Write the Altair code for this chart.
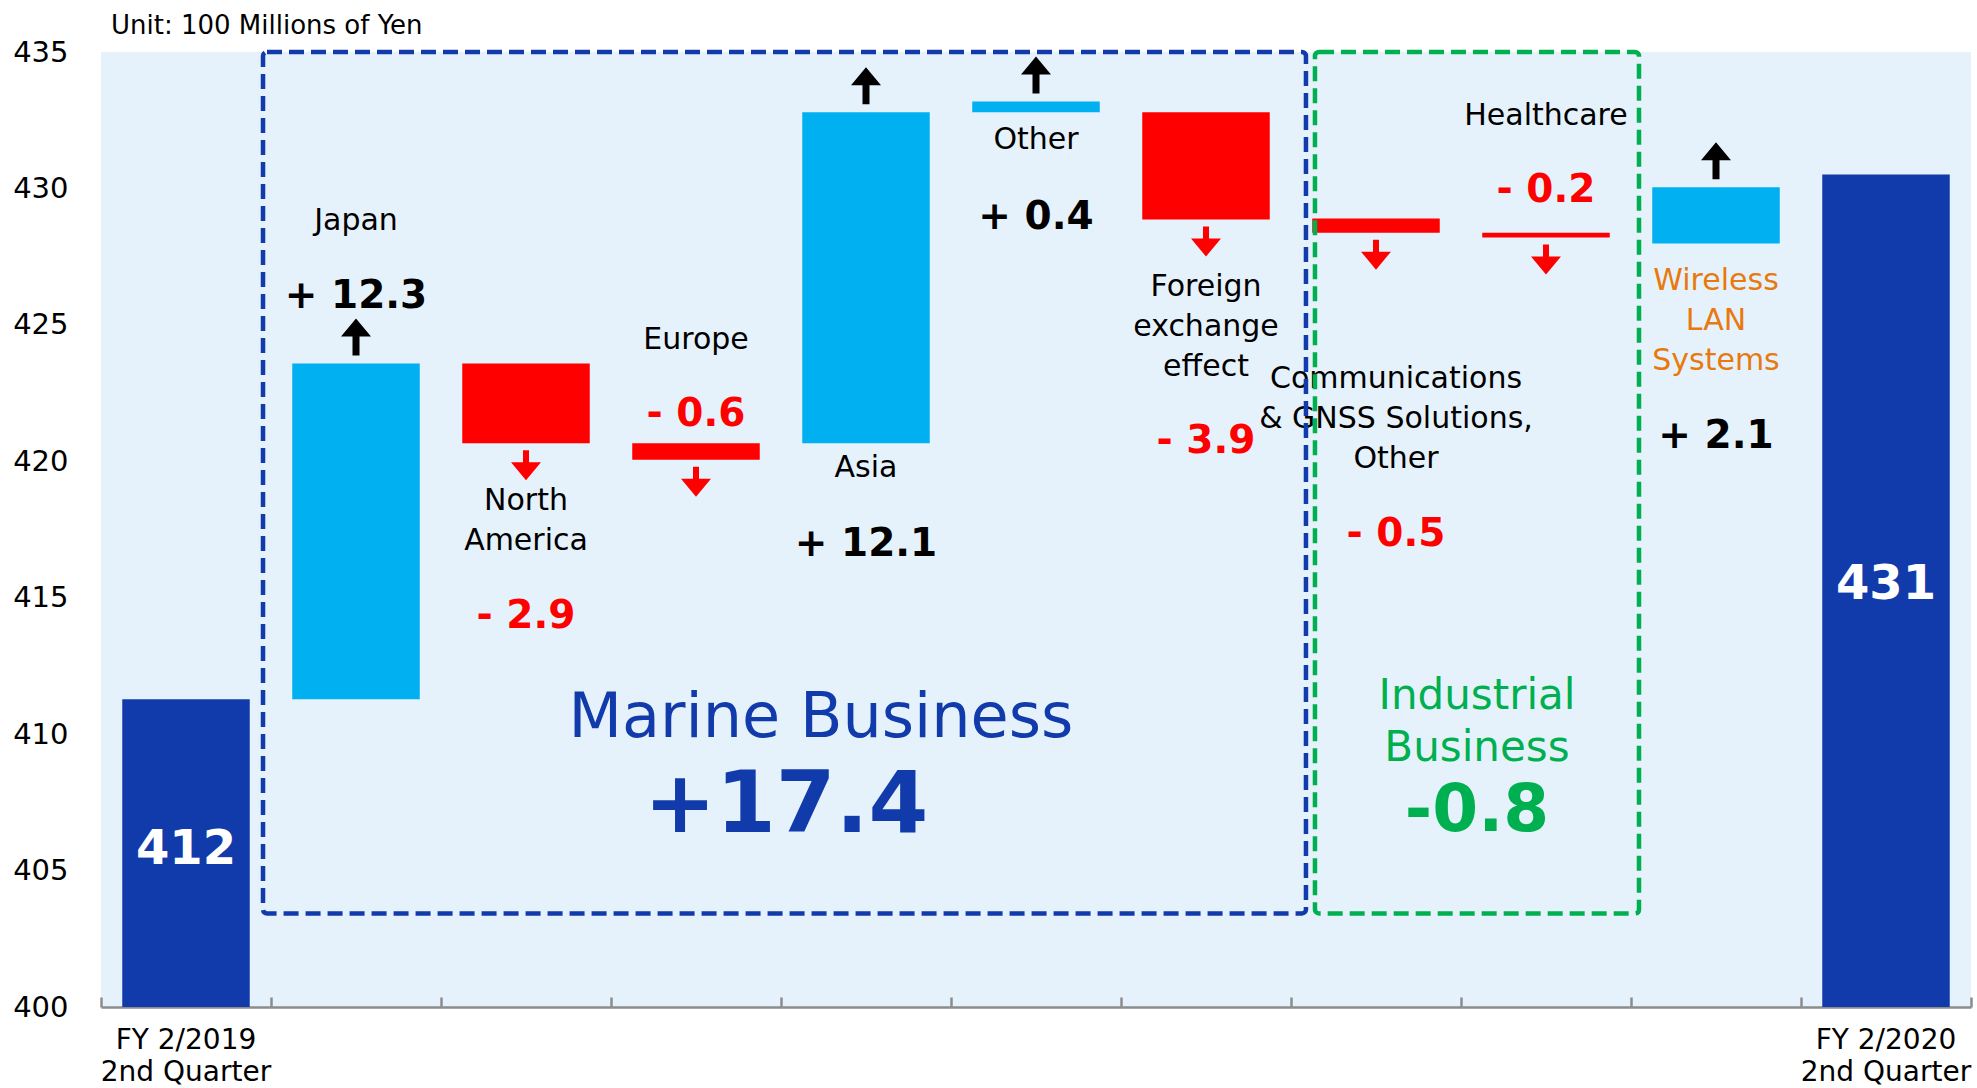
import altair as alt
import pandas as pd

# ---------------- data ----------------
categories = [
    "FY 2/2019 2nd Quarter", "Japan", "North America", "Europe", "Asia", "Other",
    "Foreign exchange effect", "Communications & GNSS Solutions, Other",
    "Healthcare", "Wireless LAN Systems", "FY 2/2020 2nd Quarter",
]
kinds = ["total", "up", "down", "down", "up", "up", "down", "down", "down", "up", "total"]
bar_low = [400, 411.28, 420.66, 420.06, 420.66, 432.79, 428.86, 428.38, 428.20, 427.98, 400]
bar_high = [411.28, 423.58, 423.58, 420.66, 432.79, 433.19, 432.79, 428.90, 428.38, 430.04, 430.51]
changes = [None, 12.3, -2.9, -0.6, 12.1, 0.4, -3.9, -0.5, -0.2, 2.1, None]
total_labels = ["412", None, None, None, None, None, None, None, None, None, "431"]
name_labels = [
    None, "Japan", "North\nAmerica", "Europe", "Asia", "Other",
    "Foreign\nexchange\neffect", "Communications\n& GNSS Solutions,\nOther",
    "Healthcare", "Wireless\nLAN\nSystems", None,
]

group_names = ["Marine Business", "Industrial\nBusiness"]
group_changes = ["+17.4", "-0.8"]

# ---------------- annotation layout (in axis units; first text line) ----------------
name_y = [None, 428.79, 418.55, 424.46, 419.76, 431.76, 426.37, 423.03, 432.64, 426.62, None]
value_y = [None, 426.04, 414.33, 421.74, 416.97, 428.94, 420.75, 417.34, 429.93, 420.94, None]
total_y = [405.74, None, None, None, None, None, None, None, None, None, 415.47]
box_x0 = [0.953, 7.141]
box_x1 = [7.088, 9.047]
box_y0 = [403.43, 403.43]
box_y1 = [435.0, 435.0]
group_name_x = [4.235, 8.094]
group_name_y = [410.59, 411.39]
group_value_x = [4.03, 8.094]
group_value_y = [407.36, 407.17]

# ---------------- style ----------------
BLUE = "#113BAA"
CYAN = "#00B0F0"
RED = "#FF0000"
GREEN = "#00B050"
ORANGE = "#E8790E"
BG = "#E6F2FB"
GRAY = "#8c8c8c"
FONT = "DejaVu Sans"
W, H = 1870, 955

UP = "M0,-4.5 L1.5,-2.7 L0.35,-2.7 L0.35,-0.8 L-0.35,-0.8 L-0.35,-2.7 L-1.5,-2.7 Z"
DOWN = "M0,3.7 L1.5,1.9 L0.3,1.9 L0.3,0.7 L-0.3,0.7 L-0.3,1.9 L-1.5,1.9 Z"


def fmt(c):
    return ("+ " if c > 0 else "- ") + f"{abs(c):.1f}"


bars_df = pd.DataFrame({"cat": categories, "kind": kinds, "low": bar_low, "high": bar_high})
names_df = pd.DataFrame(
    [{"cat": c, "name": n, "name_y": y} for c, n, y in zip(categories, name_labels, name_y) if n]
)
values_df = pd.DataFrame(
    [{"cat": c, "change": v, "vtext": fmt(v), "value_y": y}
     for c, v, y in zip(categories, changes, value_y) if v is not None]
)
totals_df = pd.DataFrame(
    [{"cat": c, "ttext": t, "total_y": y} for c, t, y in zip(categories, total_labels, total_y) if t]
)
boxes_df = pd.DataFrame({"group": ["marine", "industrial"], "x0": box_x0, "x1": box_x1,
                         "y0": box_y0, "y1": box_y1})
groups_df = pd.DataFrame({"group": ["marine", "industrial"], "gname": group_names,
                          "gvalue": group_changes, "nx": group_name_x, "ny": group_name_y,
                          "vx": group_value_x, "vy": group_value_y})

# ---------------- scales / axes ----------------
y_scale = alt.Scale(domain=[400, 435], nice=False, zero=False)
y_axis = alt.Axis(values=list(range(400, 436, 5)), title=None, ticks=False, domain=False,
                  grid=False, labelFontSize=29, labelFont=FONT, labelColor="black",
                  labelPadding=33)


def Y(field):
    return alt.Y(f"{field}:Q", scale=y_scale, axis=y_axis)


label_expr = ("datum.value == 'FY 2/2019 2nd Quarter' ? ['FY 2/2019', '2nd Quarter'] : "
              "datum.value == 'FY 2/2020 2nd Quarter' ? ['FY 2/2020', '2nd Quarter'] : ''")
x_band = alt.X(
    "cat:N", sort=categories,
    scale=alt.Scale(domain=categories, paddingInner=0.25, paddingOuter=0.125),
    axis=alt.Axis(title=None, ticks=False, domain=True, domainColor=GRAY, domainWidth=2.5,
                  labelAngle=0, labelFontSize=28, labelFont=FONT, labelColor="black",
                  labelPadding=19, labelLineHeight=32, labelExpr=label_expr,
                  labelOverlap=False, labelLimit=400, grid=False),
)

q_scale = alt.Scale(domain=[0, 11], nice=False, zero=False)
q_axis = alt.Axis(orient="top", offset=-H, values=list(range(12)), tickSize=10,
                  tickColor=GRAY, tickWidth=2.5, labels=False, domain=False, grid=False,
                  title=None)


def XQ(field):
    return alt.X(f"{field}:Q", scale=q_scale, axis=q_axis)


# ---------------- band layers ----------------
bars = alt.Chart(bars_df).mark_bar().encode(
    x=x_band, y=Y("low"), y2=alt.Y2("high"),
    color=alt.Color("kind:N", scale=alt.Scale(domain=["total", "up", "down"],
                                              range=[BLUE, CYAN, RED]), legend=None),
)
arrows_up = alt.Chart(bars_df).transform_filter(alt.datum.kind == "up").mark_point(
    shape=UP, filled=True, size=400, color="black", opacity=1, strokeWidth=0
).encode(x=x_band, y=Y("high"))
arrows_down = alt.Chart(bars_df).transform_filter(alt.datum.kind == "down").mark_point(
    shape=DOWN, filled=True, size=400, color=RED, opacity=1, strokeWidth=0
).encode(x=x_band, y=Y("low"))

COMM = categories[7]
name_color = alt.condition(alt.datum.cat == "Wireless LAN Systems", alt.value(ORANGE),
                           alt.value("black"))
names = alt.Chart(names_df).transform_filter(alt.datum.cat != COMM).mark_text(
    font=FONT, fontSize=30, lineBreak="\n", lineHeight=40, baseline="middle"
).encode(x=x_band, y=Y("name_y"), text="name:N", color=name_color)
names_comm = alt.Chart(names_df).transform_filter(alt.datum.cat == COMM).mark_text(
    font=FONT, fontSize=30, lineBreak="\n", lineHeight=40, baseline="middle", dx=20,
    color="black"
).encode(x=x_band, y=Y("name_y"), text="name:N")

value_color = alt.condition(alt.datum.change < 0, alt.value(RED), alt.value("black"))
values = alt.Chart(values_df).transform_filter(alt.datum.cat != COMM).mark_text(
    font=FONT, fontSize=39, fontWeight="bold", baseline="middle"
).encode(x=x_band, y=Y("value_y"), text="vtext:N", color=value_color)
values_comm = alt.Chart(values_df).transform_filter(alt.datum.cat == COMM).mark_text(
    font=FONT, fontSize=39, fontWeight="bold", baseline="middle", dx=20, color=RED
).encode(x=x_band, y=Y("value_y"), text="vtext:N")

totals = alt.Chart(totals_df).mark_text(
    font=FONT, fontSize=48, fontWeight="bold", baseline="middle", color="white"
).encode(x=x_band, y=Y("total_y"), text="ttext:N")

band_layer = alt.layer(bars, arrows_up, arrows_down, names, names_comm, values,
                       values_comm, totals)

# ---------------- quantitative (index) layers ----------------
boxes = alt.Chart(boxes_df).mark_rect(
    fillOpacity=0, strokeWidth=4.5, strokeDash=[15, 7], cornerRadius=4
).encode(
    x=XQ("x0"), x2=alt.X2("x1"), y=Y("y0"), y2=alt.Y2("y1"),
    stroke=alt.Color("group:N", scale=alt.Scale(domain=["marine", "industrial"],
                                                range=[BLUE, GREEN]), legend=None),
)
marine_name = alt.Chart(groups_df).transform_filter(alt.datum.group == "marine").mark_text(
    font=FONT, fontSize=62, color=BLUE, baseline="middle"
).encode(x=XQ("nx"), y=Y("ny"), text="gname:N")
marine_value = alt.Chart(groups_df).transform_filter(alt.datum.group == "marine").mark_text(
    font=FONT, fontSize=86, fontWeight="bold", color=BLUE, baseline="middle"
).encode(x=XQ("vx"), y=Y("vy"), text="gvalue:N")
ind_name = alt.Chart(groups_df).transform_filter(alt.datum.group == "industrial").mark_text(
    font=FONT, fontSize=42, color=GREEN, baseline="middle", lineBreak="\n", lineHeight=52
).encode(x=XQ("nx"), y=Y("ny"), text="gname:N")
ind_value = alt.Chart(groups_df).transform_filter(alt.datum.group == "industrial").mark_text(
    font=FONT, fontSize=66, fontWeight="bold", color=GREEN, baseline="middle"
).encode(x=XQ("vx"), y=Y("vy"), text="gvalue:N")

quant_layer = alt.layer(boxes, marine_name, marine_value, ind_name, ind_value)

chart = alt.layer(band_layer, quant_layer).resolve_scale(x="independent").properties(
    width=W, height=H,
    padding={"left": 101, "top": 52, "right": 6, "bottom": 81},
    autosize=alt.AutoSizeParams(type="none"),
    title=alt.TitleParams(text="Unit: 100 Millions of Yen", anchor="start", frame="group",
                          fontSize=26, fontWeight="normal", font=FONT, color="black",
                          dx=10, offset=-14, baseline="middle"),
).configure_view(fill=BG, stroke=None)

chart.save("out.html", embed_options={"renderer": "svg", "actions": False})
